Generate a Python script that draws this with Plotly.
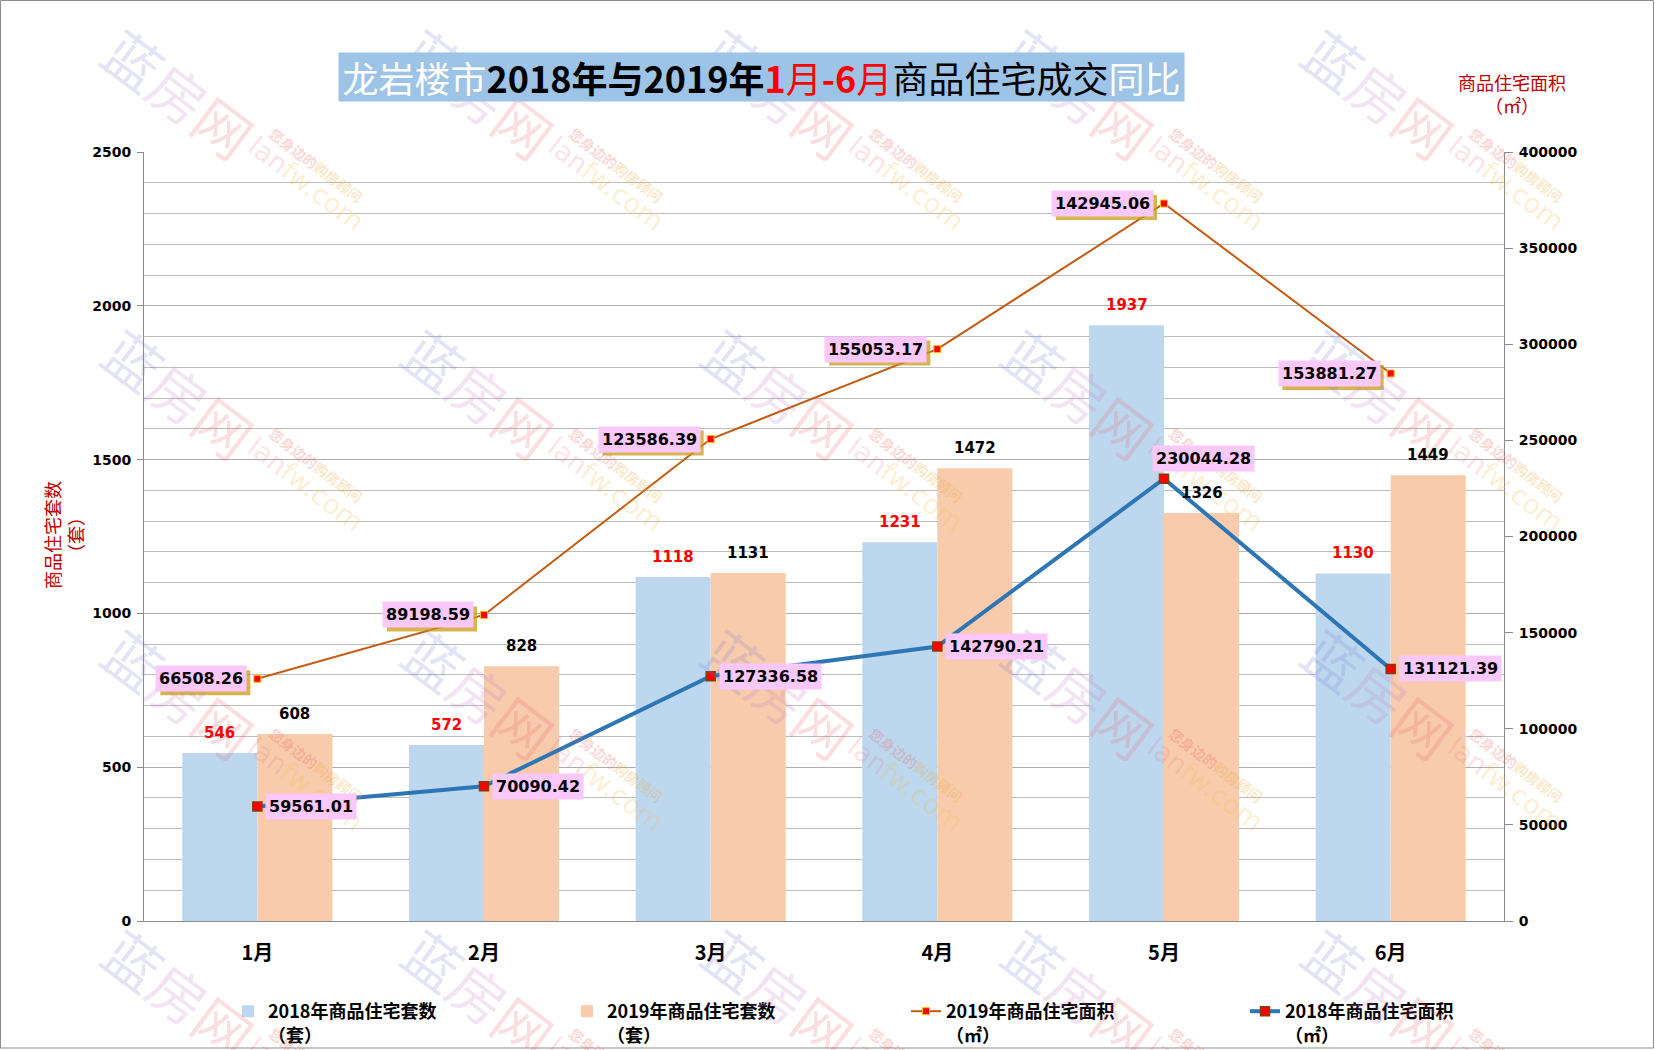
import plotly.graph_objects as go

# ---------------- data ----------------
months = ['1月', '2月', '3月', '4月', '5月', '6月']
units_2018 = [546, 572, 1118, 1231, 1937, 1130]
units_2019 = [608, 828, 1131, 1472, 1326, 1449]
area_2018 = [59561.01, 70090.42, 127336.58, 142790.21, 230044.28, 131121.39]
# positions of the 2019 area points as drawn on the right axis
area_2019 = [126000, 159200, 250700, 297500, 373200, 284800]
# labels printed next to the 2019 area points
area_2019_labels = ['66508.26', '89198.59', '123586.39', '155053.17', '142945.06', '153881.27']
left_ticks = [0, 500, 1000, 1500, 2000, 2500]
right_ticks = [0, 50000, 100000, 150000, 200000, 250000, 300000, 350000, 400000]

# ---------------- layout geometry ----------------
W, H = 1655, 1050
L, R, T, B = 144, 151, 152, 129
PW, PH = W - L - R, H - T - B


def px(x):
    return (x - L) / PW


def py(y):
    return (H - B - y) / PH


def label_width(s, size=16):
    # approximate width of a bold DejaVu Sans number string
    return sum((0.38 if c == '.' else 0.696) * size for c in s)


NUM_FONT = 'DejaVu Sans'
CJK_FONT = 'Noto Sans CJK SC'
PINK = '#FAC8FA'

fig = go.Figure()

fig.add_trace(go.Bar(
    x=months, y=units_2018, name='<b>2018年商品住宅套数</b><br><b>（套）</b>',
    marker=dict(color='#BDD7EE', line=dict(width=0)), yaxis='y'))
fig.add_trace(go.Bar(
    x=months, y=units_2019, name='<b>2019年商品住宅套数</b><br><b>（套）</b>',
    marker=dict(color='#F8CBAD', line=dict(width=0)), yaxis='y'))
fig.add_trace(go.Scatter(
    x=months, y=area_2019, yaxis='y2', mode='lines+markers',
    name='<b>2019年商品住宅面积</b><br><b>（㎡）</b>',
    line=dict(color='#C55A11', width=2),
    marker=dict(symbol='square', size=7, color='#FF0000',
                line=dict(color='#FFC000', width=1))))
fig.add_trace(go.Scatter(
    x=months, y=area_2018, yaxis='y2', mode='lines+markers',
    name='<b>2018年商品住宅面积</b><br><b>（㎡）</b>',
    line=dict(color='#2E75B6', width=4),
    marker=dict(symbol='square', size=9, color='#FF0000',
                line=dict(color='#843C0C', width=1.5))))

ann = []
shapes = []

# ---------------- watermarks ----------------
wm_x = [180, 480, 780, 1080, 1380]
wm_y = [92, 392, 692, 992]
for cy in wm_y:
    for cx in wm_x:
        ann.append(dict(
            xref='paper', yref='paper', x=px(cx), y=py(cy), showarrow=False,
            textangle=37, xanchor='center', yanchor='middle',
            font=dict(family=CJK_FONT, size=56),
            text="<span style='color:rgba(120,120,215,0.20)'>蓝</span>"
                 "<span style='color:rgba(190,120,190,0.20)'>房</span>"
                 "<span style='color:rgba(235,90,110,0.20)'>网</span>"))
        ann.append(dict(
            xref='paper', yref='paper', x=px(cx + 136), y=py(cy + 73), showarrow=False,
            textangle=37, xanchor='center', yanchor='middle',
            font=dict(family=CJK_FONT, size=14, weight='bold'),
            text="<span style='color:rgba(235,90,90,0.25)'>您身边的</span>"
                 "<span style='color:rgba(235,170,60,0.28)'>购房顾问</span>"))
        ann.append(dict(
            xref='paper', yref='paper', x=px(cx + 126), y=py(cy + 92), showarrow=False,
            textangle=37, xanchor='center', yanchor='middle',
            font=dict(family=NUM_FONT, size=27),
            text="<span style='color:rgba(235,110,130,0.20)'>lan</span>"
                 "<span style='color:rgba(240,190,70,0.24)'>fw.com</span>"))

# ---------------- bar value labels ----------------
for i, m in enumerate(months):
    ann.append(dict(x=m, y=units_2018[i], xref='x', yref='y', xshift=-37.5, yshift=9,
                    yanchor='bottom', showarrow=False, text=f'<b>{units_2018[i]}</b>',
                    font=dict(family=NUM_FONT, size=15, color='#FF0000')))
    ann.append(dict(x=m, y=units_2019[i], xref='x', yref='y', xshift=37.5, yshift=9,
                    yanchor='bottom', showarrow=False, text=f'<b>{units_2019[i]}</b>',
                    font=dict(family=NUM_FONT, size=15, color='#000000')))

# ---------------- line value labels ----------------
for i, m in enumerate(months):
    # 2019 label shadow (gold), drawn as a pixel-sized shape anchored to the point
    w = label_width(area_2019_labels[i]) + 6
    shapes.append(dict(type='rect', xref='x', yref='y2', xsizemode='pixel', ysizemode='pixel',
                       xanchor=m, yanchor=area_2019[i],
                       x0=-10 - w + 3, x1=-10 + 3, y0=-12.5 - 4, y1=12.5 - 4,
                       fillcolor='rgba(200,155,20,0.75)', line=dict(width=0), layer='above'))
    # 2019 label (left of the point)
    ann.append(dict(x=m, y=area_2019[i], xref='x', yref='y2', xanchor='right', yanchor='middle',
                    xshift=-10, showarrow=False, bgcolor=PINK, borderpad=3,
                    text=f'<b>{area_2019_labels[i]}</b>',
                    font=dict(family=NUM_FONT, size=16, color='#000000')))
    # 2018 label
    if i == 4:
        a = dict(xanchor='center', yanchor='bottom', xshift=39, yshift=7)
    else:
        a = dict(xanchor='left', yanchor='middle', xshift=8, yshift=0)
    ann.append(dict(x=m, y=area_2018[i], xref='x', yref='y2', showarrow=False, bgcolor=PINK,
                    borderpad=3, text=f'<b>{area_2018[i]:.2f}</b>',
                    font=dict(family=NUM_FONT, size=16, color='#000000'), **a))

# ---------------- title & axis titles ----------------
title_text = ("<span style='color:#FFFFFF'>龙岩楼市</span>"
              "<b>2018年与2019年</b>"
              "<span style='color:#FF0000'><b>1</b>月<b>-6</b>月</span>"
              "商品住宅成交"
              "<span style='color:#FFFFFF'>同比</span>")
ann.append(dict(xref='paper', yref='paper', x=px(761.5), y=py(77), xanchor='center',
                yanchor='middle', showarrow=False, text=title_text, bgcolor='#9DC3E6',
                width=845, height=48, borderpad=0,
                font=dict(family=CJK_FONT, size=36, color='#000000')))
ann.append(dict(xref='paper', yref='paper', x=px(1512), y=py(93), xanchor='center',
                yanchor='middle', showarrow=False, text='商品住宅面积<br>（㎡）',
                font=dict(family=CJK_FONT, size=18, color='#C00000')))
ann.append(dict(xref='paper', yref='paper', x=px(63), y=py(535), xanchor='center',
                yanchor='middle', showarrow=False, textangle=-90, text='商品住宅套数<br>（套）',
                font=dict(family=CJK_FONT, size=18, color='#C00000')))

# outer frame
shapes.append(dict(type='rect', xref='paper', yref='paper',
                   x0=px(0.5), x1=px(1653.5), y0=py(1048), y1=py(0.5),
                   line=dict(color='#8C8C8C', width=1), fillcolor='rgba(0,0,0,0)', layer='above'))

fig.update_layout(
    width=W, height=H,
    margin=dict(l=L, r=R, t=T, b=B, pad=0, autoexpand=False),
    paper_bgcolor='white', plot_bgcolor='white',
    barmode='group', bargap=0.338, bargroupgap=0,
    showlegend=True,
    legend=dict(orientation='h', xref='container', yref='container',
                x=228 / W, y=1 - 993 / H, xanchor='left', yanchor='top',
                font=dict(family=CJK_FONT, size=18, color='#000000'),
                entrywidth=294, entrywidthmode='pixels', valign='top',
                bgcolor='rgba(0,0,0,0)', traceorder='normal'),
    xaxis=dict(type='category', showline=True, linecolor='#8C8C8C', linewidth=1,
               ticks='', ticklabelstandoff=14, automargin=False,
               tickfont=dict(family=CJK_FONT, size=20, color='#000000', weight='bold'),
               showgrid=False, zeroline=False),
    yaxis=dict(range=[0, 2500], tickvals=left_ticks, showgrid=True, gridcolor='#ADADAD',
               gridwidth=1, minor=dict(dtick=100, showgrid=True, gridcolor='#BDBDBD', ticks=''),
               showline=True, linecolor='#8C8C8C', ticks='outside', ticklen=6,
               tickcolor='#8C8C8C', ticklabelstandoff=3, zeroline=False, automargin=False,
               tickfont=dict(family=NUM_FONT, size=14, color='#000000', weight='bold')),
    yaxis2=dict(range=[0, 400000], tickvals=right_ticks, tickformat='d', overlaying='y',
                side='right', showgrid=False, showline=True, linecolor='#8C8C8C',
                ticks='outside', ticklen=8, tickcolor='#8C8C8C', ticklabelstandoff=3,
                zeroline=False, automargin=False,
                tickfont=dict(family=NUM_FONT, size=14, color='#000000', weight='bold')),
    annotations=ann,
    shapes=shapes,
)

fig.write_html('out.html', config={'displayModeBar': False},
               post_script="document.body.style.margin='0';")
